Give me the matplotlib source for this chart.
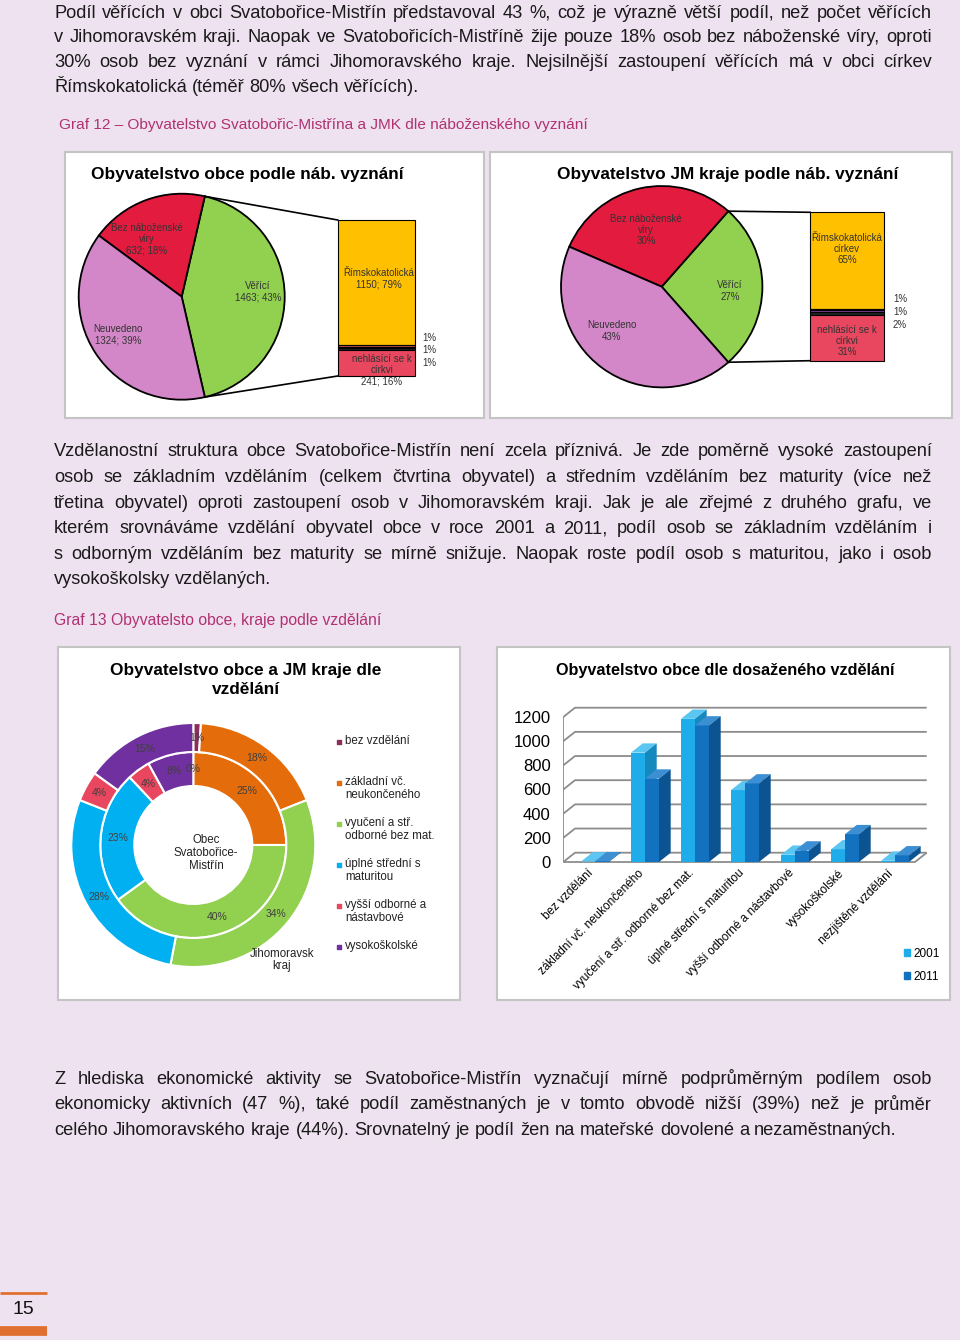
import matplotlib
matplotlib.use('Agg')
import matplotlib.pyplot as plt
from matplotlib import font_manager
from matplotlib.font_manager import FontProperties
from matplotlib.patches import Rectangle, Polygon
import numpy as np

# ---------------- data ----------------
rel_labels = ['Věřící', 'Bez náboženské\nvíry', 'Neuvedeno']
obec_rel = [1463, 632, 1324]
jmk_rel_pct = [27, 30, 43]

obec_church_labels = ['Římskokatolická', '', '', '', 'nehlásící se k\ncírkvi']
obec_church = [1150, 15, 15, 15, 241]
jmk_church_labels = ['Římskokatolická\ncírkev', '', '', '', 'nehlásící se k\ncírkvi']
jmk_church_pct = [65, 1, 1, 2, 31]

edu_labels = ['bez vzdělání', 'základní vč.\nneukončeného', 'vyučení a stř.\nodborné bez mat.',
              'úplné střední s\nmaturitou', 'vyšší odborné a\nnástavbové', 'vysokoškolské']
edu_obec_pct = [0, 25, 40, 23, 4, 8]
edu_jmk_pct = [1, 18, 34, 28, 4, 15]

bar_cats = ['bez vzdělání', 'základní vč. neukončeného', 'vyučení a stř. odborné bez mat.',
            'úplné střední s maturitou', 'vyšší odborné a nástavbové', 'vysokoškolské',
            'nezjištěné vzdělání']
edu_2001 = [4, 905, 1185, 595, 60, 105, 10]
edu_2011 = [6, 690, 1130, 650, 95, 230, 55]
years = ['2001', '2011']

para1 = ["Podíl věřících v obci Svatobořice-Mistřín představoval 43 %, což je výrazně větší podíl, než počet věřících",
         "v Jihomoravském kraji. Naopak ve Svatobořicích-Mistříně žije pouze 18% osob bez náboženské víry, oproti",
         "30% osob bez vyznání v rámci Jihomoravského kraje. Nejsilnější zastoupení věřících má v obci církev",
         "Římskokatolická (téměř 80% všech věřících)."]
para2 = ["Vzdělanostní struktura obce Svatobořice-Mistřín není zcela příznivá. Je zde poměrně vysoké zastoupení",
         "osob se základním vzděláním (celkem čtvrtina obyvatel) a středním vzděláním bez maturity (více než",
         "třetina obyvatel) oproti zastoupení osob v Jihomoravském kraji. Jak je ale zřejmé z druhého grafu, ve",
         "kterém srovnáváme vzdělání obyvatel obce v roce 2001 a 2011, podíl osob se základním vzděláním i",
         "s odborným vzděláním bez maturity se mírně snižuje. Naopak roste podíl osob s maturitou, jako i osob",
         "vysokoškolsky vzdělaných."]
para3 = ["Z hlediska ekonomické aktivity se Svatobořice-Mistřín vyznačují mírně podprůměrným podílem osob",
         "ekonomicky aktivních (47 %), také podíl zaměstnaných je v tomto obvodě nižší (39%) než je průměr",
         "celého Jihomoravského kraje (44%). Srovnatelný je podíl žen na mateřské dovolené a nezaměstnaných."]

# ---------------- style ----------------
W, H = 960, 1340
BG = '#EEE1F0'
CAPTION = '#B03272'
PIE_COLORS = ['#92D050', '#E31B3F', '#D387C8']
CHURCH_COLORS = ['#FFC000', '#C0504D', '#7F3F98', '#222222', '#E8475F']
EDU_COLORS = ['#8B2F5A', '#E46C0A', '#92D050', '#00B0F0', '#E8475F', '#7030A0']
BAR_FRONT = ['#1EACEB', '#1272C0']
BAR_TOP = ['#5CC6F2', '#3B8FD2']
BAR_SIDE = ['#1589BD', '#0C5391']


def first_font(names):
    for n in names:
        try:
            font_manager.findfont(FontProperties(family=[n]), fallback_to_default=False)
            return n
        except ValueError:
            pass
    return 'DejaVu Sans'


BODY = first_font(['Liberation Sans Narrow', 'DejaVu Sans Condensed', 'Liberation Sans'])
CHART = first_font(['Liberation Sans', 'DejaVu Sans'])
plt.rcParams['font.family'] = [CHART, 'DejaVu Sans']

fig = plt.figure(figsize=(W / 100, H / 100), dpi=100, facecolor=BG)
renderer = fig.canvas.get_renderer()


def fx(x):
    return x / W


def fy(y):
    return 1 - y / H


def Y(y):
    return H - y


def page_axes(x0, y0, x1, y1, box=True):
    if box:
        fig.add_artist(Rectangle((fx(x0), fy(y1)), (x1 - x0) / W, (y1 - y0) / H,
                                 transform=fig.transFigure, facecolor='white',
                                 edgecolor='#C4C4C4', lw=1.5, zorder=-1))
    ax = fig.add_axes([fx(x0), fy(y1), (x1 - x0) / W, (y1 - y0) / H])
    ax.set_axis_off()
    return ax


def set_page_limits(ax, x0, y0, x1, y1):
    ax.set_xlim(x0, x1)
    ax.set_ylim(Y(y1), Y(y0))
    ax.set_aspect('auto')


# ---------------- justified paragraphs ----------------
def text_width(s, size):
    t = fig.text(0, 0, s, fontsize=size, family=[BODY, 'DejaVu Sans'])
    w = t.get_window_extent(renderer).width
    t.remove()
    return w


X0, X1 = 54, 932
size0 = 13.5
widest = max(text_width(l, size0) for l in para1[:-1] + para2[:-1] + para3[:-1])
BODY_SIZE = min(size0, size0 * 0.985 * (X1 - X0) / widest)
SPACE = text_width('a a', BODY_SIZE) - text_width('aa', BODY_SIZE)


def paragraph(lines, y0, step, justify_last=False):
    for k, line in enumerate(lines):
        y = y0 + k * step
        words = line.split(' ')
        texts = [fig.text(0, fy(y), w, fontsize=BODY_SIZE, family=[BODY, 'DejaVu Sans'],
                          va='center', ha='left', color='#1A1A1A') for w in words]
        widths = [t.get_window_extent(renderer).width for t in texts]
        last = k == len(lines) - 1
        if (not last or justify_last) and len(words) > 1:
            gap = (X1 - X0 - sum(widths)) / (len(words) - 1)
        else:
            gap = SPACE
        x = X0
        for t, w in zip(texts, widths):
            t.set_x(fx(x))
            x += w + gap


paragraph(para1, 13, 24.7)
fig.text(fx(59), fy(125), 'Graf 12 – Obyvatelstvo Svatobořic-Mistřína a JMK dle náboženského vyznání',
         fontsize=11.1, color=CAPTION, va='center')
paragraph(para2, 452, 25.6)
fig.text(fx(54), fy(620), 'Graf 13 Obyvatelsto obce, kraje podle vzdělání',
         fontsize=11.3, color=CAPTION, va='center')
paragraph(para3, 1079, 25.6)


# ---------------- pie of pie charts ----------------
def pie_of_pie(box, title, vals, center, r, bar_vals, bar_x, bar_w, bar_top, bar_h):
    x0, y0, x1, y1 = box
    ax = page_axes(x0, y0, x1, y1)
    fig.text(fx(center[0] + 66), fy(175), title, fontsize=12.4, fontweight='bold',
             ha='center', va='center')
    half = 180 * vals[0] / sum(vals)
    ax.pie(vals, colors=PIE_COLORS, startangle=-half, center=(center[0], Y(center[1])),
           radius=r, wedgeprops=dict(edgecolor='black', linewidth=1.3))
    heights = bar_h * np.array(bar_vals, dtype=float) / sum(bar_vals)
    bottoms = Y(bar_top) - np.cumsum(heights)
    ax.bar(bar_x + bar_w / 2, heights, bottom=bottoms, width=bar_w, color=CHURCH_COLORS,
           edgecolor='black', linewidth=0.8)
    t = np.radians(half)
    px = center[0] + r * np.cos(t)
    ax.plot([px, bar_x], [Y(center[1]) + r * np.sin(t), Y(bar_top)], color='black', lw=1.2)
    ax.plot([px, bar_x], [Y(center[1]) - r * np.sin(t), Y(bar_top) - bar_h], color='black', lw=1.2)
    set_page_limits(ax, x0, y0, x1, y1)
    return ax


LBL = dict(fontsize=7, ha='center', va='center', color='#333333', linespacing=1.15)

obec_pct = [round(100 * v / sum(obec_rel)) for v in obec_rel]
pie_of_pie((65, 152, 484, 418), 'Obyvatelstvo obce podle náb. vyznání', obec_rel,
           (181.7, 296.7), 103, obec_church, 337.7, 77.3, 220, 156)
fig.text(fx(258), fy(292), f'{rel_labels[0]}\n{obec_rel[0]}; {obec_pct[0]}%', **LBL)
fig.text(fx(147), fy(239), f'{rel_labels[1]}\n{obec_rel[1]}; {obec_pct[1]}%', **LBL)
fig.text(fx(118), fy(335), f'{rel_labels[2]}\n{obec_rel[2]}; {obec_pct[2]}%', **LBL)
church_pct = [round(100 * v / obec_rel[0]) for v in obec_church]
fig.text(fx(379), fy(279), f'{obec_church_labels[0]}\n{obec_church[0]}; {church_pct[0]}%', **LBL)
fig.text(fx(382), fy(370), f'{obec_church_labels[4]}\n{obec_church[4]}; {church_pct[4]}%', **LBL)
for k in range(3):
    fig.text(fx(429), fy(338 + 12.5 * k), f'{church_pct[1 + k]}%', **LBL)

pie_of_pie((490, 152, 952, 418), 'Obyvatelstvo JM kraje podle náb. vyznání', jmk_rel_pct,
           (661.7, 286.7), 100.7, jmk_church_pct, 810, 74.3, 212.3, 148.4)
fig.text(fx(730), fy(291), f'{rel_labels[0]}\n{jmk_rel_pct[0]}%', **LBL)
fig.text(fx(646), fy(230), f'{rel_labels[1]}\n{jmk_rel_pct[1]}%', **LBL)
fig.text(fx(612), fy(331), f'{rel_labels[2]}\n{jmk_rel_pct[2]}%', **LBL)
fig.text(fx(847), fy(249), f'{jmk_church_labels[0]}\n{jmk_church_pct[0]}%', **LBL)
fig.text(fx(847), fy(341), f'{jmk_church_labels[4]}\n{jmk_church_pct[4]}%', **LBL)
for k in range(3):
    fig.text(fx(900), fy(299 + 13 * k), f'{jmk_church_pct[1 + k]}%', **LBL)

# ---------------- donut chart ----------------
dbox = (58, 647, 460, 1000)
ax = page_axes(*dbox)
fig.text(fx(246), fy(680), 'Obyvatelstvo obce a JM kraje dle\nvzdělání', fontsize=12.4,
         fontweight='bold', ha='center', va='center', linespacing=1.3)
c = (193.3, Y(845))
pct_fmt = lambda p: f'{p:.0f}%'
tp = dict(fontsize=7.5, color='#404040')
ax.pie(edu_obec_pct, radius=93, center=c, startangle=90, counterclock=False, colors=EDU_COLORS,
       autopct=pct_fmt, pctdistance=76 / 93, textprops=tp,
       wedgeprops=dict(width=34, edgecolor='white', linewidth=1.5))
ax.pie(edu_jmk_pct, radius=122, center=c, startangle=90, counterclock=False, colors=EDU_COLORS,
       autopct=pct_fmt, pctdistance=107.5 / 122, textprops=tp,
       wedgeprops=dict(width=29, edgecolor='white', linewidth=1.5))
set_page_limits(ax, *dbox)
fig.text(fx(206), fy(853), 'Obec\nSvatobořice-\nMistřín', fontsize=8.3, ha='center', va='center',
         color='#222222', linespacing=1.1)
fig.text(fx(282), fy(960), 'Jihomoravsk\nkraj', fontsize=8.3, ha='center', va='center',
         color='#222222', linespacing=1.1)
for i, lab in enumerate(edu_labels):
    yy = 742 + 41 * i
    ax.scatter([339], [Y(yy)], marker='s', s=10, color=EDU_COLORS[i], clip_on=False)
    fig.text(fx(345), fy(yy - 7), lab, fontsize=8.3, ha='left', va='top', color='#222222',
             linespacing=1.15)

# ---------------- 3D-looking bar chart ----------------
fig.add_artist(Rectangle((fx(497), fy(1000)), 453 / W, 353 / H, transform=fig.transFigure,
                         facecolor='white', edgecolor='#C4C4C4', lw=1.5, zorder=-1))
fig.text(fx(725), fy(670), 'Obyvatelstvo obce dle dosaženého vzdělání', fontsize=11.7,
         fontweight='bold', ha='center', va='center')
PX_CAT = 50.0          # px per category
PX_UNIT = 145 / 1200   # px per value unit
AX_L, AX_R, AX_T, AX_B = 563, 935, 695, 866
CAT0 = 595
bx = fig.add_axes([fx(AX_L), fy(AX_B), (AX_R - AX_L) / W, (AX_B - AX_T) / H])
bx.set_facecolor('none')
for s in bx.spines.values():
    s.set_visible(False)
bx.set_xlim((AX_L - CAT0) / PX_CAT, (AX_R - CAT0) / PX_CAT)
bx.set_ylim(-(AX_B - 862) / PX_UNIT, (862 - AX_T) / PX_UNIT)
ddx, ddy = 11.7 / PX_CAT, 9.3 / PX_UNIT
xl, xr = (563.3 - CAT0) / PX_CAT, (926.7 - CAT0) / PX_CAT
ticks = np.arange(0, 1201, 200)
grid_kw = dict(color='#8C8C8C', lw=1.3, zorder=1, solid_capstyle='butt')
for v in ticks:
    bx.plot([xl, xl + ddx, xr], [v, v + ddy, v + ddy], **grid_kw)
bx.plot([xl, xl], [0, 1200], **grid_kw)
bx.plot([xl, xr - ddx, xr], [0, 0, ddy], **grid_kw)

bw = 0.28
xs = np.arange(len(bar_cats))
for i in xs:
    for s, series in enumerate([edu_2001, edu_2011]):
        v = series[i]
        xa = i - bw + s * bw
        xb = xa + bw
        z = 3 + 2 * i + s
        bx.bar(xa + bw / 2, v, width=bw, color=BAR_FRONT[s], zorder=z, linewidth=0)
        bx.add_patch(Polygon([(xa, v), (xb, v), (xb + ddx, v + ddy), (xa + ddx, v + ddy)],
                             closed=True, facecolor=BAR_TOP[s], lw=0, zorder=z))
        bx.add_patch(Polygon([(xb, 0), (xb, v), (xb + ddx, v + ddy), (xb + ddx, ddy)],
                             closed=True, facecolor=BAR_SIDE[s], lw=0, zorder=z))
bx.set_yticks(ticks)
bx.set_yticklabels([str(t) for t in ticks], fontsize=12)
bx.tick_params(axis='y', length=0, pad=9)
bx.set_xticks(xs - 0.06)
bx.set_xticklabels(bar_cats, rotation=45, ha='right', va='center', rotation_mode='anchor',
                   fontsize=8.5)
bx.tick_params(axis='x', length=0, pad=4)

handles = [Rectangle((0, 0), 1, 1, color=BAR_FRONT[k]) for k in range(2)]
fig.legend(handles, years, loc='upper left', bbox_to_anchor=(fx(893), fy(937)), frameon=False,
           handlelength=0.55, handleheight=0.55, handletextpad=0.3, labelspacing=0.95, fontsize=8.5)

# ---------------- page number ----------------
pn = fig.add_axes([0, fy(1340), 60 / W, 60 / H])
pn.set_axis_off()
pn.set_xlim(0, 60)
pn.set_ylim(1340, 1280)
pn.plot([0, 47], [1293, 1293], color='#E07030', lw=2, solid_capstyle='butt')
pn.plot([0, 47], [1330.5, 1330.5], color='#E07030', lw=7, solid_capstyle='butt')
fig.text(fx(23), fy(1310), '15', fontsize=14, ha='center', va='center', color='#111111')

fig.savefig('out.png', dpi=100, facecolor=BG)
